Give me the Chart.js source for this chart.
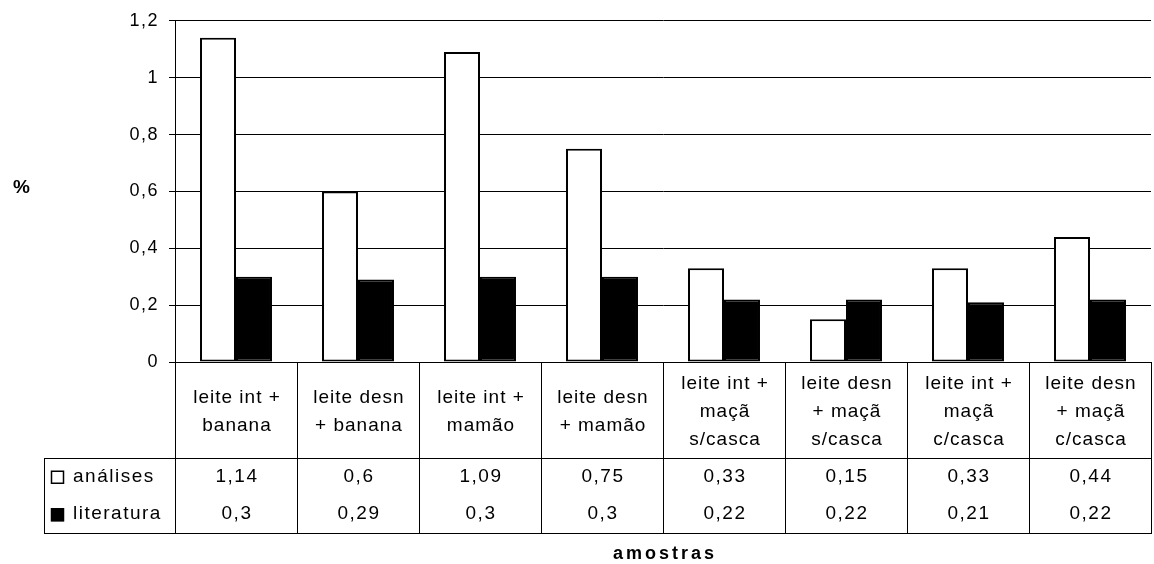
<!DOCTYPE html>
<html>
<head>
<meta charset="utf-8">
<title>amostras</title>
<script src="https://cdn.jsdelivr.net/npm/chart.js@4.4.1/dist/chart.umd.min.js"></script>
<style>
  body { margin: 0; background: #fff; }
  #wrap { position: relative; width: 1154px; height: 564px; }
</style>
</head>
<body>
<div id="wrap"><canvas id="bar-chart"></canvas></div>
<script>
const categories = [
  ["leite int +", "banana"],
  ["leite desn", "+ banana"],
  ["leite int +", "mamão"],
  ["leite desn", "+ mamão"],
  ["leite int +", "maçã", "s/casca"],
  ["leite desn", "+ maçã", "s/casca"],
  ["leite int +", "maçã", "c/casca"],
  ["leite desn", "+ maçã", "c/casca"],
];
const analises = [1.14, 0.6, 1.09, 0.75, 0.33, 0.15, 0.33, 0.44];
const literatura = [0.3, 0.29, 0.3, 0.3, 0.22, 0.22, 0.21, 0.22];
const seriesNames = ["análises", "literatura"];
const yTicks = [0, 0.2, 0.4, 0.6, 0.8, 1, 1.2];
const yTitle = "%";
const xTitle = "amostras";

const FONT = "'Liberation Sans', Arial, sans-serif";
const fmt = v => String(v).replace(".", ",");

// excel-ish text spacing for the tick labels
const spacingPlugin = {
  id: "spacing",
  beforeDraw(chart) { chart.ctx.letterSpacing = "1.5px"; },
};

// data table under the plot + axis titles
const tablePlugin = {
  id: "dataTable",
  afterDraw(chart) {
    const { ctx, chartArea: a, scales: { x, y } } = chart;
    const n = categories.length;
    const edges = [a.left];
    for (let i = 0; i < n - 1; i++) {
      edges.push((x.getPixelForValue(i) + x.getPixelForValue(i + 1)) / 2);
    }
    edges.push(a.right);

    const top = y.getPixelForValue(0);
    const rowTop = top + 96;
    const rowH = 37.5;
    const bottom = rowTop + rowH * 2;
    const tableLeft = 44;

    ctx.save();
    ctx.strokeStyle = "#000";
    ctx.lineWidth = 1;
    ctx.beginPath();
    edges.forEach(e => {
      const ex = Math.round(e) + 0.5;
      ctx.moveTo(ex, top);
      ctx.lineTo(ex, bottom);
    });
    ctx.moveTo(tableLeft + 0.5, rowTop);
    ctx.lineTo(tableLeft + 0.5, bottom);
    ctx.moveTo(tableLeft, Math.round(rowTop) + 0.5);
    ctx.lineTo(a.right + 1, Math.round(rowTop) + 0.5);
    ctx.moveTo(tableLeft, Math.round(bottom) + 0.5);
    ctx.lineTo(a.right + 1, Math.round(bottom) + 0.5);
    ctx.stroke();

    ctx.fillStyle = "#000";
    ctx.font = "19px " + FONT;
    ctx.letterSpacing = "1px";
    ctx.textAlign = "center";
    ctx.textBaseline = "middle";

    const catMid = (top + rowTop) / 2 + 2;
    const lineH = 28;
    categories.forEach((lines, i) => {
      const cx = (edges[i] + edges[i + 1]) / 2 + 1;
      const y0 = catMid - (lines.length - 1) * lineH / 2;
      lines.forEach((t, k) => ctx.fillText(t, cx, y0 + k * lineH));
    });

    ctx.letterSpacing = "1.5px";
    [analises, literatura].forEach((vals, r) => {
      const cy = rowTop + rowH * r + rowH / 2;
      vals.forEach((v, i) => {
        const cx = (edges[i] + edges[i + 1]) / 2 + 1;
        ctx.fillText(fmt(v), cx, cy);
      });
      // legend key + series name
      ctx.textAlign = "left";
      ctx.fillText(seriesNames[r], 73, cy);
      ctx.textAlign = "center";
      const ds = chart.data.datasets[r];
      ctx.fillStyle = ds.backgroundColor;
      ctx.fillRect(51, cy - 6, 13, 13);
      ctx.lineWidth = 1.5;
      ctx.strokeRect(51.5, cy - 5.5, 12, 12);
      ctx.fillStyle = "#000";
    });

    ctx.font = "bold 19px " + FONT;
    ctx.letterSpacing = "1px";
    ctx.fillText(yTitle, 22, (a.top + a.bottom) / 2 - 4);
    ctx.font = "bold 18px " + FONT;
    ctx.letterSpacing = "3px";
    ctx.fillText(xTitle, (a.left + a.right) / 2 + 2, bottom + 21);
    ctx.restore();
    ctx.letterSpacing = "0px";
  },
};

const config = {
  type: "bar",
  data: {
    labels: categories,
    datasets: [
      {
        label: seriesNames[0],
        data: analises,
        backgroundColor: "#ffffff",
        borderColor: "#000000",
        borderWidth: 2,
        borderSkipped: false,
      },
      {
        label: seriesNames[1],
        data: literatura,
        backgroundColor: "#000000",
        borderColor: "#000000",
        borderWidth: 2,
        borderSkipped: false,
      },
    ],
  },
  options: {
    responsive: true,
    maintainAspectRatio: false,
    animation: false,
    datasets: {
      bar: { categoryPercentage: 0.59, barPercentage: 1 },
    },
    layout: {
      padding: { left: 0, right: 3, top: 20, bottom: 202 },
    },
    plugins: {
      legend: { display: false },
      tooltip: { enabled: false },
    },
    scales: {
      x: { display: false },
      y: {
        min: 0,
        max: 1.2,
        afterFit(scale) { scale.width = 175; },
        afterBuildTicks(scale) { scale.ticks = yTicks.map(v => ({ value: v })); },
        ticks: {
          color: "#000",
          padding: 10,
          font: { family: FONT, size: 18 },
          callback: v => fmt(v),
        },
        grid: {
          color: "#000",
          lineWidth: 1,
          tickLength: 6,
          drawTicks: true,
        },
        border: { display: true, color: "#000", width: 1 },
      },
    },
  },
  plugins: [spacingPlugin, tablePlugin],
};

let ctx = document.getElementById("bar-chart").getContext("2d");
new Chart(ctx, config);
</script>
</body>
</html>
